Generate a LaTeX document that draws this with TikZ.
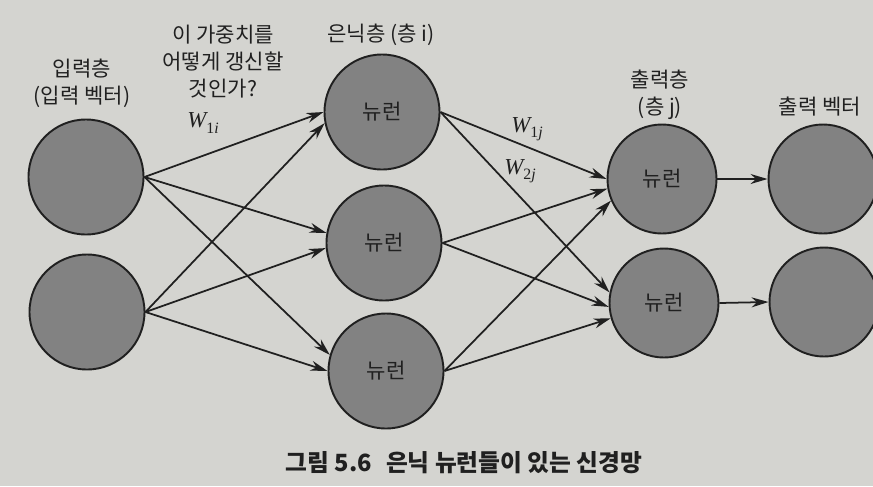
\documentclass[tikz,border=0pt]{standalone}
\usepackage{amsmath,amssymb}
\usepackage{fontspec}
\newfontfamily\kor{Noto Sans CJK KR}
\newfontfamily\wfont{Liberation Serif}
\usetikzlibrary{arrows.meta}
\definecolor{paper}{RGB}{212,212,208}
\definecolor{cellgray}{RGB}{130,130,130}
\definecolor{ink}{RGB}{32,32,32}
\newcommand{\wlab}[2]{{\wfont\itshape W\raisebox{-0.5ex}{\small\upshape #1\itshape #2}}}

\begin{document}
\begin{tikzpicture}[
  neuron/.style={circle, draw=ink, line width=1.1pt, fill=cellgray, minimum size=2.3cm, inner sep=0pt, text=ink, font=\kor\fontsize{12}{14}\selectfont},
  heading/.style={align=center, text=ink, font=\kor\fontsize{12}{15.4}\selectfont},
  weight/.style={text=ink, font=\fontsize{13}{15}\selectfont},
  figcap/.style={text=ink, font=\kor\bfseries\fontsize{13.5}{16}\selectfont},
  link/.style={-{Stealth[length=3.4mm, width=2mm]}, line width=1pt, draw=ink}]
  \useasboundingbox[fill=paper] (0,0) rectangle (17.46,-9.72);

  \node[neuron] (x1) at (1.72, -3.54) {};
  \node[neuron] (x2) at (1.74, -6.24) {};
  \node[neuron] (h1) at (7.64, -2.24) {뉴런};
  \node[neuron] (h2) at (7.68, -4.86) {뉴런};
  \node[neuron] (h3) at (7.72, -7.42) {뉴런};
  \node[neuron, minimum size=2.18cm] (o1) at (13.24, -3.58) {뉴런};
  \node[neuron, minimum size=2.18cm] (o2) at (13.28, -6.06) {뉴런};
  \node[neuron, minimum size=2.18cm] (y1) at (16.46, -3.58) {};
  \node[neuron, minimum size=2.18cm] (y2) at (16.48, -6.04) {};

  \node[heading] (tin) at (1.64, -1.67) {입력층\\(입력 벡터)};
  \node[heading] (tq) at (4.46, -1.24) {이 가중치를\\어떻게 갱신할\\것인가?};
  \node[heading] (thid) at (7.62, -0.70) {은닉층 (층 i)};
  \node[heading] (tout) at (13.2, -1.90) {출력층\\(층 j)};
  \node[heading] (tvec) at (16.4, -2.14) {출력 벡터};
  \node[weight] (w1i) at (4.06, -2.46) {\wlab{1}{i}};
  \node[weight] (w1j) at (10.54, -2.58) {\wlab{1}{j}};
  \node[weight] (w2j) at (10.4, -3.42) {\wlab{2}{j}};
  \node[figcap] (cap) at (9.28, -9.26) {그림 5.6\hspace{0.6em}은닉 뉴런들이 있는 신경망};

  \draw[link] (x1.east) -- (h1.180);
  \draw[link] (x1.east) -- (h2.170);
  \draw[link] (x1.east) -- (h3.164);
  \draw[link] (x2.east) -- (h1.191);
  \draw[link] (x2.east) -- (h2.185);
  \draw[link] (x2.east) -- (h3.180);
  \draw[link] (h1.east) -- (o1.180);
  \draw[link] (h1.east) -- (o2.169);
  \draw[link] (h2.east) -- (o1.190);
  \draw[link] (h2.east) -- (o2.184);
  \draw[link] (h3.east) -- (o1.203);
  \draw[link] (h3.east) -- (o2.196);
  \draw[link] (o1.east) -- (y1.west);
  \draw[link] (o2.east) -- (y2.west);
\end{tikzpicture}
\end{document}
